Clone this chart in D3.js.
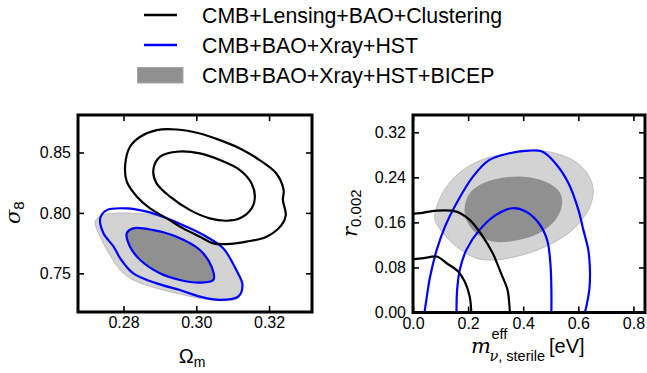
<!DOCTYPE html>
<html>
<head>
<meta charset="utf-8">
<script src="https://cdn.jsdelivr.net/npm/d3@7"></script>
<style>
  body { margin: 0; background: #fff; }
  svg { display: block; font-family: "Liberation Sans", Arial, sans-serif; }
</style>
</head>
<body>
<svg id="chart" width="647" height="373"></svg>
<script>
// legend entries
var legendNames = ["CMB+Lensing+BAO+Clustering", "CMB+BAO+Xray+HST", "CMB+BAO+Xray+HST+BICEP"];

// tick values
var omTicks = [0.28, 0.30, 0.32];
var s8Ticks = [0.75, 0.80, 0.85];
var mnuTicks = [0.0, 0.2, 0.4, 0.6, 0.8];
var rTicks = [0.00, 0.08, 0.16, 0.24, 0.32];

// left panel: Omega_m vs sigma_8 contours, [x, y]
var lensOuter = [[0.2891,0.8685],[0.2946,0.8690],[0.3010,0.8657],[0.3065,0.8602],[0.3120,0.8533],[0.3174,0.8437],[0.3220,0.8326],[0.3240,0.8189],[0.3238,0.8106],[0.3246,0.7982],[0.3234,0.7899],[0.3193,0.7803],[0.3138,0.7762],[0.3083,0.7742],[0.3047,0.7748],[0.3010,0.7803],[0.2964,0.7872],[0.2919,0.7955],[0.2873,0.8037],[0.2837,0.8134],[0.2809,0.8258],[0.2805,0.8409],[0.2818,0.8547],[0.2846,0.8630]];
var lensInner = [[0.2882,0.8354],[0.2900,0.8464],[0.2946,0.8506],[0.3010,0.8492],[0.3065,0.8437],[0.3120,0.8354],[0.3152,0.8244],[0.3161,0.8134],[0.3152,0.8037],[0.3120,0.7955],[0.3083,0.7935],[0.3037,0.7955],[0.2983,0.8023],[0.2928,0.8134],[0.2891,0.8244]];
var xrayOuter = [[0.2736,0.7955],[0.2754,0.8023],[0.2809,0.8037],[0.2864,0.8010],[0.2919,0.7955],[0.2973,0.7886],[0.3028,0.7803],[0.3074,0.7707],[0.3110,0.7527],[0.3127,0.7404],[0.3115,0.7307],[0.3065,0.7280],[0.3010,0.7307],[0.2955,0.7362],[0.2891,0.7417],[0.2827,0.7500],[0.2791,0.7624],[0.2773,0.7720],[0.2745,0.7831]];
var xrayInner = [[0.2809,0.7831],[0.2827,0.7872],[0.2882,0.7858],[0.2946,0.7803],[0.3010,0.7693],[0.3042,0.7555],[0.3047,0.7445],[0.3010,0.7423],[0.2955,0.7445],[0.2900,0.7500],[0.2846,0.7610],[0.2818,0.7720]];
var bicepOuter = [[0.2722,0.7927],[0.2736,0.7974],[0.2773,0.7996],[0.2827,0.7996],[0.2882,0.7982],[0.2937,0.7927],[0.2992,0.7858],[0.3047,0.7775],[0.3083,0.7679],[0.3110,0.7514],[0.3124,0.7390],[0.3115,0.7293],[0.3065,0.7274],[0.3010,0.7293],[0.2955,0.7329],[0.2891,0.7376],[0.2827,0.7445],[0.2791,0.7527],[0.2763,0.7651],[0.2736,0.7803]];
var bicepInner = xrayInner;

// right panel: m_nu,sterile vs r_0.002 contours, [x, y]
var rBicepOuter = [[0.0801,0.1644],[0.0861,0.1881],[0.1220,0.2236],[0.1818,0.2532],[0.2655,0.2739],[0.3611,0.2827],[0.4448,0.2869],[0.5166,0.2827],[0.5883,0.2680],[0.6362,0.2443],[0.6541,0.2177],[0.6422,0.1881],[0.6123,0.1644],[0.5644,0.1408],[0.4807,0.1171],[0.3970,0.1023],[0.3013,0.0935],[0.2296,0.0964],[0.1578,0.1171],[0.1100,0.1408]];
var rBicepInner = [[0.1877,0.1881],[0.2057,0.2118],[0.2535,0.2295],[0.3372,0.2402],[0.4209,0.2402],[0.4927,0.2295],[0.5345,0.2118],[0.5405,0.1911],[0.5166,0.1644],[0.4568,0.1408],[0.3731,0.1278],[0.2894,0.1260],[0.2296,0.1408],[0.1937,0.1644]];
var rXrayOuter = [[0.0419,0],[0.0502,0.0284],[0.0622,0.0639],[0.0861,0.1112],[0.1160,0.1526],[0.1578,0.1940],[0.2176,0.2413],[0.2774,0.2709],[0.3492,0.2827],[0.4209,0.2875],[0.4688,0.2857],[0.5166,0.2650],[0.5644,0.2295],[0.6003,0.1822],[0.6182,0.1467],[0.6362,0.1112],[0.6422,0.0757],[0.6398,0.0402],[0.6242,0]];
var rXrayInner = [[0.1578,0],[0.1602,0.0402],[0.1698,0.0757],[0.1937,0.1112],[0.2416,0.1467],[0.3013,0.1733],[0.3611,0.1851],[0.4090,0.1792],[0.4568,0.1585],[0.4867,0.1289],[0.4986,0.0875],[0.5022,0.0402],[0.5022,0]];
var rLensOuter = [[0,0.1751],[0.0263,0.1763],[0.0861,0.1810],[0.1578,0.1792],[0.2057,0.1644],[0.2535,0.1349],[0.2894,0.1053],[0.3193,0.0698],[0.3432,0.0402],[0.3492,0.0166],[0.3516,0]];
var rLensInner = [[0,0.0946],[0.0383,0.0964],[0.0861,0.0994],[0.1220,0.0875],[0.1638,0.0728],[0.1877,0.0550],[0.2057,0.0284],[0.2117,0]];

var BLACK = "#000", BLUE = "#0000ff", LIGHT = "#d3d3d3", DARK = "#909090";

var svg = d3.select("#chart");

// ---- legend ----
var legend = svg.append("g");
legendNames.forEach(function(name, i) {
  var yc = 15 + i * 30;
  if (i < 2) {
    legend.append("line").attr("x1", 144).attr("x2", 177).attr("y1", yc).attr("y2", yc)
      .attr("stroke", i == 0 ? BLACK : BLUE).attr("stroke-width", 2.5);
  } else {
    legend.append("rect").attr("x", 137.5).attr("y", 67.5).attr("width", 45.5).attr("height", 15.5)
      .attr("fill", DARK).attr("stroke", "#a8a8a8").attr("stroke-width", 1);
  }
  legend.append("text").attr("x", 202).attr("y", 23 + i * 30)
    .attr("font-size", 21.3).text(name);
});

// ---- panel helper ----
function panel(opt) {
  var x = d3.scaleLinear().domain(opt.xdom).range([opt.left, opt.right]);
  var y = d3.scaleLinear().domain(opt.ydom).range([opt.bottom, opt.top]);
  var g = svg.append("g");
  var cid = "clip" + opt.id;
  g.append("clipPath").attr("id", cid).append("rect")
    .attr("x", opt.left).attr("y", opt.top)
    .attr("width", opt.right - opt.left).attr("height", opt.bottom - opt.top);
  var body = g.append("g").attr("clip-path", "url(#" + cid + ")");

  var closed = d3.line().x(function(d){ return x(d[0]); }).y(function(d){ return y(d[1]); })
    .curve(d3.curveCatmullRomClosed.alpha(0.5));
  var open = d3.line().x(function(d){ return x(d[0]); }).y(function(d){ return y(d[1]); })
    .curve(d3.curveCatmullRom.alpha(0.5));

  opt.fills.forEach(function(f) {
    body.append("path").attr("d", closed(f.pts)).attr("fill", f.color)
      .attr("stroke", f.edge || "none").attr("stroke-width", 1);
  });
  opt.lines.forEach(function(l) {
    body.append("path").attr("d", (l.closed ? closed : open)(l.pts)).attr("fill", "none")
      .attr("stroke", l.color).attr("stroke-width", 2.2).attr("stroke-linejoin", "round");
  });

  // axes with inward ticks on all four sides
  function styleAxis(sel) {
    sel.select(".domain").remove();
    sel.selectAll(".tick line").attr("stroke", "#000").attr("stroke-width", 1.6);
    sel.selectAll(".tick text").attr("font-size", 16).attr("font-family", "Liberation Sans, Arial, sans-serif").attr("fill", "#000");
  }
  g.append("g").attr("transform", "translate(0," + opt.bottom + ")")
    .call(d3.axisBottom(x).tickValues(opt.xticks).tickFormat(d3.format(opt.xfmt)).tickSizeInner(-6).tickSizeOuter(0).tickPadding(5))
    .call(styleAxis);
  g.append("g").attr("transform", "translate(0," + opt.top + ")")
    .call(d3.axisTop(x).tickValues(opt.xticks).tickFormat("").tickSizeInner(-6).tickSizeOuter(0))
    .call(styleAxis);
  g.append("g").attr("transform", "translate(" + opt.left + ",0)")
    .call(d3.axisLeft(y).tickValues(opt.yticks).tickFormat(d3.format(opt.yfmt)).tickSizeInner(-6).tickSizeOuter(0).tickPadding(7))
    .call(styleAxis);
  g.append("g").attr("transform", "translate(" + opt.right + ",0)")
    .call(d3.axisRight(y).tickValues(opt.yticks).tickFormat("").tickSizeInner(-6).tickSizeOuter(0))
    .call(styleAxis);

  g.append("rect").attr("x", opt.left).attr("y", opt.top)
    .attr("width", opt.right - opt.left).attr("height", opt.bottom - opt.top)
    .attr("fill", "none").attr("stroke", "#000").attr("stroke-width", 3);
  return g;
}

// left panel
var gl = panel({
  id: "L", left: 78, right: 312, top: 115, bottom: 312,
  xdom: [0.2675, 0.3318], ydom: [0.718, 0.881],
  xticks: omTicks, yticks: s8Ticks, xfmt: ".2f", yfmt: ".2f",
  fills: [{pts: bicepOuter, color: LIGHT, edge: "#bcbcbc"}, {pts: bicepInner, color: DARK}],
  lines: [
    {pts: xrayOuter, color: BLUE, closed: true}, {pts: xrayInner, color: BLUE, closed: true},
    {pts: lensOuter, color: BLACK, closed: true}, {pts: lensInner, color: BLACK, closed: true}
  ]
});

// right panel
var gr = panel({
  id: "R", left: 413, right: 645, top: 115, bottom: 312.5,
  xdom: [0, 0.842], ydom: [0, 0.3507],
  xticks: mnuTicks, yticks: rTicks, xfmt: ".1f", yfmt: ".2f",
  fills: [{pts: rBicepOuter, color: LIGHT, edge: "#bcbcbc"}, {pts: rBicepInner, color: DARK}],
  lines: [
    {pts: rXrayOuter, color: BLUE}, {pts: rXrayInner, color: BLUE},
    {pts: rLensOuter, color: BLACK}, {pts: rLensInner, color: BLACK}
  ]
});

// ---- axis labels ----
var serifIt = "'DejaVu Serif', 'Liberation Serif', serif";

// Omega_m
var om = svg.append("text").attr("x", 192).attr("y", 363).attr("font-size", 20).attr("text-anchor", "middle");
om.append("tspan").text("Ω");
om.append("tspan").attr("dy", 4).attr("font-size", 14).text("m");

// sigma_8
var s8 = svg.append("text").attr("transform", "translate(20,224) rotate(-90)").attr("font-size", 21);
s8.append("tspan").attr("font-family", serifIt).attr("font-style", "italic").text("σ");
s8.append("tspan").attr("dy", 4).attr("font-size", 15).text("8");

// r_0.002
var rl = svg.append("text").attr("transform", "translate(357,237) rotate(-90)").attr("font-size", 21);
rl.append("tspan").attr("font-family", serifIt).attr("font-style", "italic").text("r");
rl.append("tspan").attr("dy", 4).attr("font-size", 15).text("0.002");

// m_nu,sterile^eff [eV]
var mx = 471, my = 353;
var mt = svg.append("text").attr("x", mx).attr("y", my).attr("font-size", 21)
  .attr("font-family", serifIt).attr("font-style", "italic").text("m");
var mw = mt.node().getComputedTextLength();
svg.append("text").attr("x", mx + mw + 0.5).attr("y", 339).attr("font-size", 14.5).text("eff");
var sub = svg.append("text").attr("x", mx + mw - 1.5).attr("y", 361).attr("font-size", 14.5);
sub.append("tspan").attr("font-family", serifIt).attr("font-style", "italic").text("ν");
sub.append("tspan").text(", sterile");
var sw = sub.node().getComputedTextLength();
svg.append("text").attr("x", mx + mw - 1.5 + sw + 4).attr("y", my).attr("font-size", 20).text("[eV]");
</script>
</body>
</html>
